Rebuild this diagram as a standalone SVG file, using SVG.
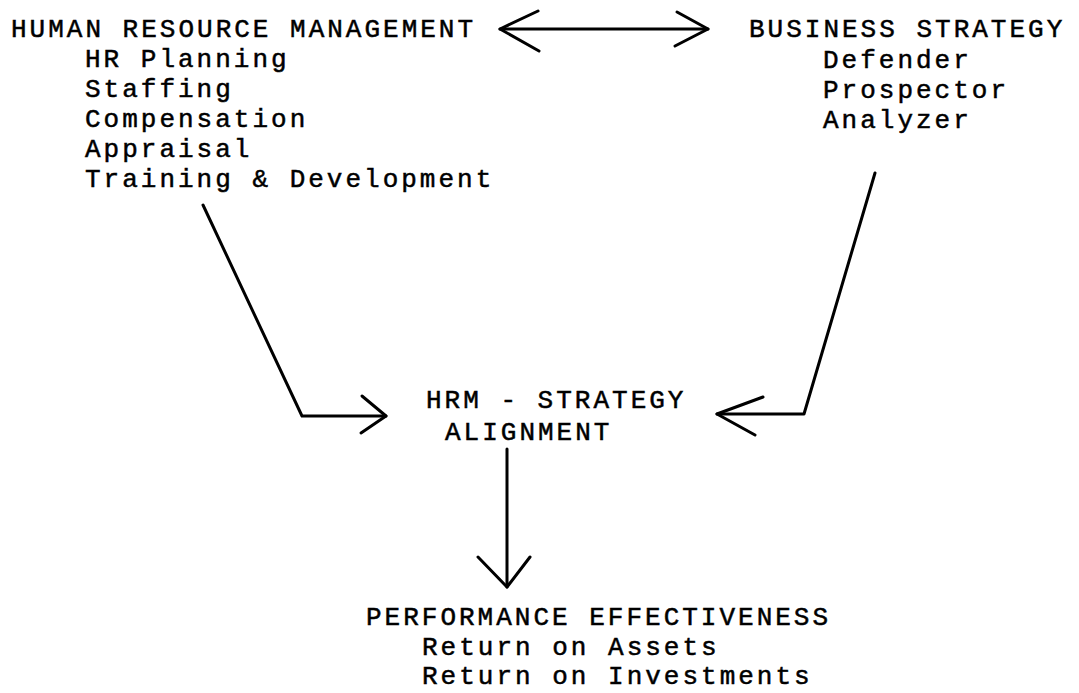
<svg xmlns="http://www.w3.org/2000/svg" width="1079" height="693" viewBox="0 0 1079 693">
  <style>
    text { font-family: "Liberation Mono", "Courier New", monospace; font-size: 26px; letter-spacing: 3px; fill: #000; stroke: #000; stroke-width: 0.5; white-space: pre; }
    .conn { fill: none; stroke: #000; stroke-width: 3; stroke-linecap: round; stroke-linejoin: round; }
  </style>
  <rect x="0" y="0" width="1079" height="693" fill="#fff"/>
  <g id="node-hrm">
    <text x="11" y="37">HUMAN RESOURCE MANAGEMENT</text>
    <text x="85" y="67">HR Planning</text>
    <text x="85" y="97">Staffing</text>
    <text x="85" y="127">Compensation</text>
    <text x="85" y="157">Appraisal</text>
    <text x="85" y="187">Training &amp; Development</text>
  </g>
  <g id="node-strategy">
    <text x="749" y="37">BUSINESS STRATEGY</text>
    <text x="823" y="68">Defender</text>
    <text x="823" y="98">Prospector</text>
    <text x="823" y="128">Analyzer</text>
  </g>
  <g id="node-alignment">
    <text x="426" y="408">HRM - STRATEGY</text>
    <text x="445" y="440">ALIGNMENT</text>
  </g>
  <g id="node-performance">
    <text x="366" y="625">PERFORMANCE EFFECTIVENESS</text>
    <text x="422" y="655">Return on Assets</text>
    <text x="422" y="684">Return on Investments</text>
  </g>
  <g id="connectors">
    <path class="conn" d="M500 29 H708" stroke-width="3.5"/>
    <path class="conn" d="M538 11 L500 29 L539 51"/>
    <path class="conn" d="M677 12 L708 29 L675 46"/>
    <path class="conn" d="M203 205 L302 416 H386"/>
    <path class="conn" d="M362 396 L386 416 L361 433"/>
    <path class="conn" d="M875 173 L804 414 H717"/>
    <path class="conn" d="M763 397 L717 414 L755 435"/>
    <path class="conn" d="M507 449 V587"/>
    <path class="conn" d="M478 557 L507 587 L530 557"/>
  </g>
</svg>
